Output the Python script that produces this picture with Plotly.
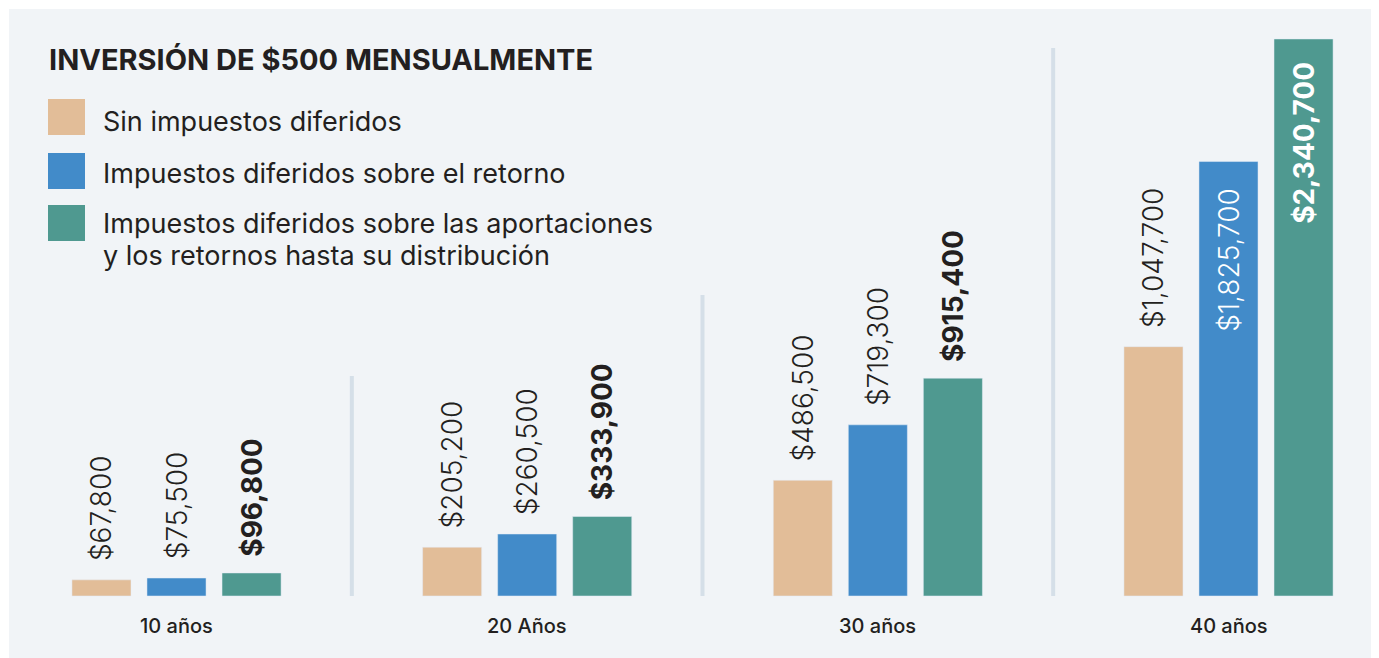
import plotly.graph_objects as go

# data
periods = ['10 años', '20 Años', '30 años', '40 años']
series_names = [
    'Sin impuestos diferidos',
    'Impuestos diferidos sobre el retorno',
    'Impuestos diferidos sobre las aportaciones<br>y los retornos hasta su distribución',
]
sin_diferir = [67800, 205200, 486500, 1047700]
diferido_retorno = [75500, 260500, 719300, 1825700]
diferido_total = [96800, 333900, 915400, 2340700]
title_text = 'INVERSIÓN DE $500 MENSUALMENTE'
divider_tops = [924000, 1265000, 2303000]

COLORS = ['#e2bd98', '#428bc9', '#4f9990']
DARK = '#231f20'
PANEL = '#f1f4f7'
FONT = 'Inter'
NB = '\u00a0'

# page pixel -> paper coords (plot area starts at 9,9 because of the 8px body margin)
W, H = 1378, 657
px = lambda x: (x - 9) / W
py = lambda y: 1 - (y - 9) / H

fig = go.Figure()
for k, vals in enumerate([sin_diferir, diferido_retorno, diferido_total]):
    pos, texts, colors = [], [], []
    for v in vals:
        label = '${:,}'.format(v)
        inside = k > 0 and v > 1500000
        pos.append('inside' if inside else 'outside')
        texts.append(label + NB * 3 if inside else NB * 2 + label)
        colors.append('white' if inside else DARK)
    fig.add_trace(go.Bar(
        x=periods, y=vals, name=series_names[k], marker_color=COLORS[k],
        text=texts, textposition=pos, textangle=-90, insidetextanchor='end',
        textfont=dict(family=FONT, size=28, color=colors, weight=650 if k == 2 else 300),
        constraintext='none', cliponaxis=False, hoverinfo='skip',
    ))

# dividers between periods
for i, top in enumerate(divider_tops):
    fig.add_shape(type='line', xref='x', yref='y', x0=i + 0.5, x1=i + 0.5, y0=0, y1=top,
                  line=dict(color='#d5dfe8', width=4), layer='below')

# period labels
for p in periods:
    fig.add_annotation(x=p, y=0, yshift=-30, text=p, showarrow=False,
                       font=dict(family=FONT, size=20, color=DARK, weight=500))

# legend drawn by hand
fig.add_annotation(xref='paper', yref='paper', x=px(47), y=py(59), xanchor='left', yanchor='middle',
                   text='<b>' + title_text + '</b>', showarrow=False,
                   font=dict(family=FONT, size=29, color=DARK))
swatch_tops = [99, 153, 205]
line_centers = [[120], [172], [223, 255]]
for k, name in enumerate(series_names):
    fig.add_shape(type='rect', xref='paper', yref='paper',
                  x0=px(48), x1=px(85), y0=py(swatch_tops[k] + 36), y1=py(swatch_tops[k]),
                  fillcolor=COLORS[k], line_width=0)
    for line, yc in zip(name.split('<br>'), line_centers[k]):
        fig.add_annotation(xref='paper', yref='paper', x=px(101), y=py(yc + 1),
                           xanchor='left', yanchor='middle', text=line, showarrow=False,
                           font=dict(family=FONT, size=27, color=DARK, weight=400))

fig.update_layout(
    width=1379, height=658, showlegend=False,
    barmode='group', bargap=0.358, bargroupgap=0.213,
    paper_bgcolor='white', plot_bgcolor=PANEL,
    margin=dict(l=1, r=0, t=1, b=0),
    xaxis=dict(range=[-0.4777, 3.452], showticklabels=False, showgrid=False, zeroline=False),
    yaxis=dict(range=[-294200, 2466700], visible=False),
)
fig.write_html('out.html')
